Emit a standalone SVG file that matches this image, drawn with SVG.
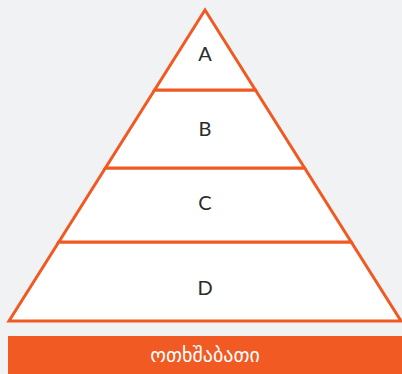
<svg xmlns="http://www.w3.org/2000/svg" width="402" height="374" viewBox="0 0 402 374">
<style>
.band{fill:#ffffff;stroke:#f05a22;stroke-width:3;stroke-linejoin:miter}
.lbl{font-family:Lato,"DejaVu Sans",sans-serif;font-size:20px;fill:#2a2a2a;text-anchor:middle;dominant-baseline:central}
.ttl{font-family:"DejaVu Sans","Noto Sans",sans-serif;font-size:20px;fill:#ffffff;text-anchor:middle;dominant-baseline:central}
</style>
<rect x="0" y="0" width="402" height="374" fill="#f1f2f4"/>
<g id="level-D"><polygon class="band" points="58.8,242 351.2,242 401,321 9,321"/><text class="lbl" x="205" y="287">D</text></g>
<g id="level-C"><polygon class="band" points="105.4,168 304.6,168 351.2,242 58.8,242"/><text class="lbl" x="205" y="202">C</text></g>
<g id="level-B"><polygon class="band" points="154.6,90 255.4,90 304.6,168 105.4,168"/><text class="lbl" x="205" y="128">B</text></g>
<g id="level-A"><polygon class="band" points="205,10 255.4,90 154.6,90"/><text class="lbl" x="205" y="53">A</text></g>
<g id="connectors"></g>
<g id="title"><rect x="8" y="336" width="394" height="38" fill="#f15a22"/><text class="ttl" x="205" y="355">ოთხშაბათი</text></g>
</svg>
